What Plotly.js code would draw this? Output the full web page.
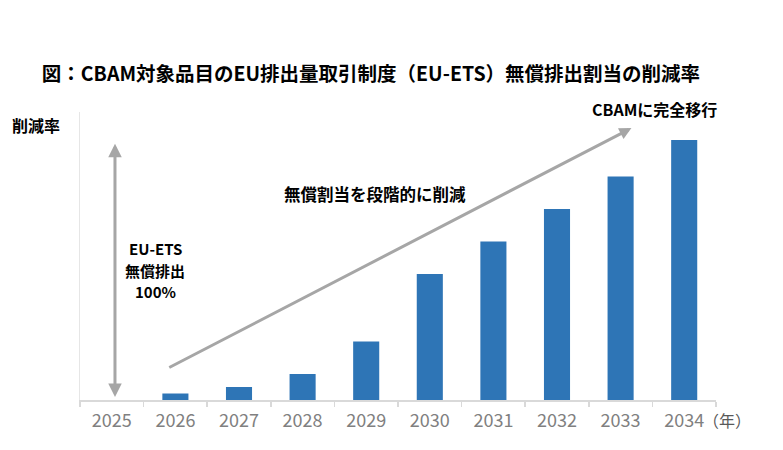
<!DOCTYPE html>
<html>
<head>
<meta charset="utf-8">
<script src="https://cdn.plot.ly/plotly-3.0.1.min.js"></script>
<style>html,body{margin:0;padding:0;background:#fff;}#chart{width:783px;height:450px;}</style>
</head>
<body>
<div id="chart"></div>
<script>
// Data
const years = ['2025','2026','2027','2028','2029','2030','2031','2032','2033','2034'];
const reductionRate = [null, 2.5, 5, 10, 22.5, 48.5, 61, 73.5, 86, 100];

const FONT = '"Noto Sans CJK JP", "Noto Sans", sans-serif';
const TICKFONT = '"Liberation Sans Narrow", "Noto Sans CJK JP", sans-serif';
const GRAY_ARROW = '#a6a6a6';

const trace = {
  type: 'bar',
  x: years,
  y: reductionRate,
  marker: {color: '#2e75b6'},
  width: 0.41,
  hoverinfo: 'x+y'
};

function label(text, xref, yref, x, y, size) {
  return {
    xref: xref, yref: yref, x: x, y: y, xanchor: 'center', yanchor: 'middle',
    text: '<b>' + text + '</b>', showarrow: false,
    font: {family: FONT, size: size, color: '#000'}
  };
}

const layout = {
  width: 783, height: 450,
  margin: {l: 80, r: 67, t: 112, b: 50},
  paper_bgcolor: '#fff', plot_bgcolor: '#fff',
  font: {family: FONT, color: '#000'},
  showlegend: false,
  title: {
    text: '<b>図：CBAM対象品目のEU排出量取引制度（EU-ETS）無償排出割当の削減率</b>',
    font: {family: FONT, size: 19.5, color: '#000'},
    x: 0.4575, xanchor: 'center', xref: 'paper',
    y: 0.836, yanchor: 'middle'
  },
  xaxis: {
    type: 'category',
    range: [-0.5, 9.5],
    showline: true, linecolor: '#d9d9d9', linewidth: 1.5,
    ticks: 'outside', tickson: 'boundaries', ticklen: 5, tickcolor: '#d9d9d9', tickwidth: 1.5,
    ticklabelstandoff: 4,
    tickfont: {family: TICKFONT, size: 18, color: '#808080'},
    showgrid: false, zeroline: false, fixedrange: true
  },
  yaxis: {
    range: [0, 110.8],
    showline: true, linecolor: '#e6e6e6', linewidth: 1.5,
    showticklabels: false, ticks: '', showgrid: false, zeroline: false, fixedrange: true
  },
  annotations: [
    label('削減率', 'paper', 'paper', -0.069, 0.955, 16),
    // vertical double-headed arrow at 2025
    {
      xref: 'x', yref: 'y', axref: 'x', ayref: 'y',
      x: 0.05, y: 1.2, ax: 0.05, ay: 99.2,
      showarrow: true, arrowhead: 2, startarrowhead: 2, arrowside: 'end+start',
      arrowsize: 0.9, startarrowsize: 0.9, arrowwidth: 3, arrowcolor: GRAY_ARROW, text: ''
    },
    label('EU-ETS', 'x', 'y', 0.68, 58.1, 15),
    label('無償排出', 'x', 'y', 0.68, 50.0, 15),
    label('100%', 'x', 'y', 0.68, 41.9, 15),
    // diagonal arrow
    {
      xref: 'x', yref: 'y', axref: 'x', ayref: 'y',
      x: 8.17, y: 104.6, ax: 0.88, ay: 12.2,
      showarrow: true, arrowhead: 2, arrowsize: 0.8, arrowwidth: 3, arrowcolor: GRAY_ARROW, text: ''
    },
    label('無償割当を段階的に削減', 'x', 'y', 4.14, 79.2, 16.5),
    label('CBAMに完全移行', 'paper', 'paper', 0.904, 1.0104, 16),
    {
      xref: 'paper', yref: 'paper', x: 1, y: 0, xanchor: 'left', yanchor: 'top',
      xshift: -15, yshift: -6,
      text: '（年）', showarrow: false,
      font: {family: '"Noto Sans CJK JP", sans-serif', size: 16, color: '#595959'}
    }
  ]
};

Plotly.newPlot('chart', [trace], layout, {displayModeBar: false, staticPlot: true});
</script>
</body>
</html>
